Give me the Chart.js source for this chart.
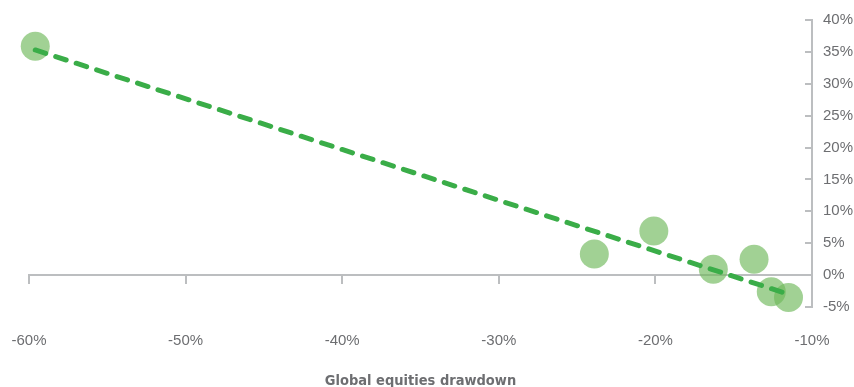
<!DOCTYPE html>
<html>
<head>
<meta charset="utf-8">
<script src="https://cdn.jsdelivr.net/npm/chart.js@4"></script>
<style>
  html, body { margin: 0; padding: 0; background: #fff; }
  #wrap { width: 854px; height: 387px; }
</style>
</head>
<body>
<div id="wrap"><canvas id="chart"></canvas></div>
<script>
// drawdown of global equities (x) vs return (y), both in %
const drawdown = [-59.6, -23.9, -20.1, -16.3, -13.7, -12.6, -11.5];
const returns = [35.9, 3.3, 6.9, 0.9, 2.5, -2.6, -3.5];
// trend line ends
const trendX = [-59.6, -11.5];
const trendY = [35.3, -3.0];

const axisGrey = '#bcbec0';
const textGrey = '#6d6e71';
const tickFont = { family: "'Liberation Sans', Arial, sans-serif", size: 15 };
const pct = v => v + '%';

const data = {
    datasets: [{
        label: 'Trend',
        data: trendX.map((x, i) => ({ x: x, y: trendY[i] })),
        showLine: true,
        borderColor: '#3aad48',
        borderWidth: 5,
        borderDash: [11, 10.5],
        borderCapStyle: 'round',
        pointRadius: 0,
        pointHoverRadius: 0,
        clip: false,
        order: 0
    },
    {
        label: 'Episodes',
        data: drawdown.map((x, i) => ({ x: x, y: returns[i] })),
        backgroundColor: 'rgba(110, 185, 90, 0.65)',
        borderWidth: 0,
        pointRadius: 14.5,
        pointHoverRadius: 14.5,
        clip: false,
        order: 1
    }]
};

const config = {
    type: 'scatter',
    data,
    options: {
        responsive: true,
        maintainAspectRatio: false,
        animation: false,
        layout: {
            padding: { top: 20, right: 0, bottom: 0, left: 29 }
        },
        plugins: {
            legend: { display: false },
            tooltip: { enabled: false }
        },
        scales: {
            x: {
                type: 'linear',
                position: 'bottom',
                min: -60,
                max: -10,
                afterFit: s => { s.height = 80; s.paddingLeft = 0; s.paddingRight = 0; },
                grid: { display: false },
                border: { display: false },
                ticks: { stepSize: 10, padding: 17, color: textGrey, font: tickFont, callback: pct },
                title: {
                    display: true,
                    text: 'Global equities drawdown',
                    color: textGrey,
                    padding: { top: 0, bottom: 0 },
                    font: { family: "'DejaVu Sans Condensed', sans-serif", size: 14.5, weight: 'bold', lineHeight: 0.85 }
                }
            },
            // zero line with its tick marks
            x2: {
                type: 'linear',
                axis: 'x',
                position: { y: 0 },
                min: -60,
                max: -10,
                afterFit: s => { s.paddingLeft = 0; s.paddingRight = 0; },
                grid: { drawOnChartArea: false, drawTicks: true, tickLength: 8, color: axisGrey, lineWidth: 2 },
                border: { display: true, color: axisGrey, width: 2 },
                ticks: { stepSize: 10, display: false }
            },
            y: {
                type: 'linear',
                position: 'right',
                min: -5,
                max: 40,
                afterFit: s => { s.width = 42; s.paddingTop = 0; s.paddingBottom = 0; },
                grid: { drawOnChartArea: false, drawTicks: true, tickLength: -7, color: axisGrey, lineWidth: 2 },
                border: { display: true, color: axisGrey, width: 2 },
                ticks: { stepSize: 5, padding: 18, color: textGrey, font: tickFont, callback: pct }
            }
        }
    }
};

var chart = document.getElementById('chart');
var myChart = new Chart(chart, config);
</script>
</body>
</html>
